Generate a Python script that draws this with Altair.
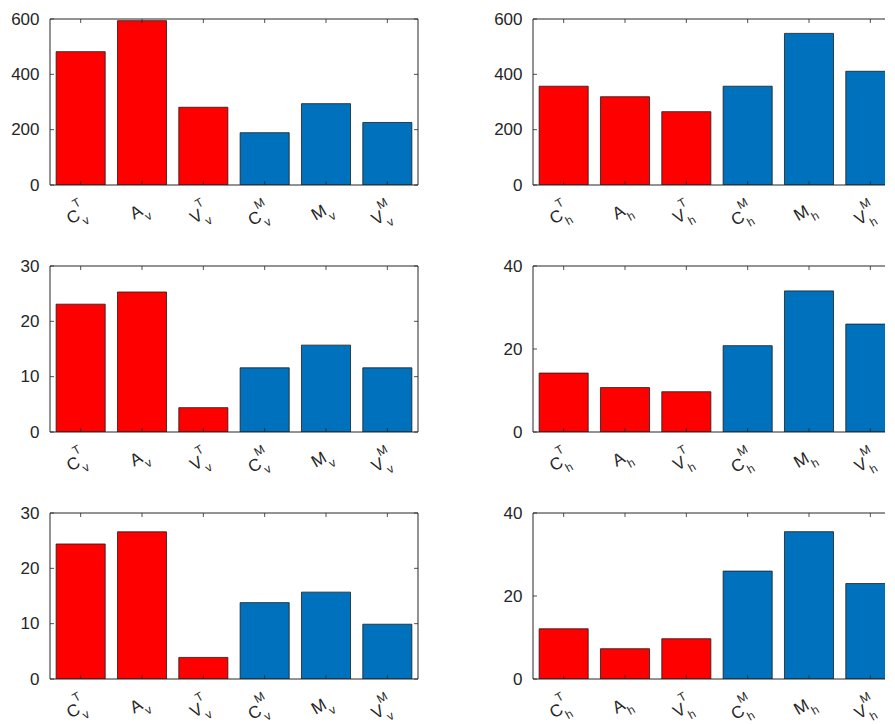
import altair as alt
import pandas as pd

# ---- data ----
base = ["C", "A", "V", "C", "M", "V"]
sups = ["T", "", "T", "M", "", "M"]
groups = ["T", "T", "T", "M", "M", "M"]

vals_tl = [482, 594, 281, 189, 294, 226]
vals_tr = [357, 319, 265, 357, 548, 411]
vals_ml = [23.1, 25.3, 4.4, 11.6, 15.7, 11.6]
vals_mr = [14.2, 10.7, 9.7, 20.8, 34.0, 26.0]
vals_bl = [24.4, 26.6, 3.9, 13.8, 15.7, 9.9]
vals_br = [12.1, 7.3, 9.7, 26.0, 35.5, 23.0]

yt_600 = [0, 200, 400, 600]
yt_30 = [0, 10, 20, 30]
yt_40 = [0, 20, 40]

# ---- style ----
W, H = 368, 166          # full panel size (6 category slots)
WR = 352                 # right column is cut off by the page edge
RED, BLUE = "#FF0000", "#0072BD"
AX = "#262626"
FONT = "Liberation Sans"
BASE_FS, SCRIPT_FS = 17, 12
CW = {"T": 0.611, "M": 0.833, "v": 0.5, "h": 0.556, "": 0.0}
C30, S30 = 0.866, 0.5
YEXT = 40


def panel(values, sub, ymax, yticks, width):
    cut = width < W
    pos = list(range(1, 7))
    df = pd.DataFrame({
        "pos": pos,
        "lo": [p - 0.4 for p in pos],
        "hi": [p + 0.4 for p in pos],
        "val": values,
        "zero": [0] * 6,
        "grp": groups,
    })
    xmax = 0.5 + width / (W / 6.0)
    xs = alt.Scale(domain=[0.5, xmax], nice=False, zero=False)
    ys = alt.Scale(domain=[0, ymax], nice=False)
    yaxis = alt.Axis(
        values=yticks, grid=False, domain=False, ticks=False, tickSize=0,
        labelPadding=11, labelFont=FONT, labelFontSize=17, labelColor=AX,
        minExtent=YEXT, maxExtent=YEXT, title=None)

    bars = alt.Chart(df).mark_bar(stroke="#1a1a1a", strokeWidth=0.8, clip=True).encode(
        x=alt.X("lo:Q", scale=xs, axis=None),
        x2="hi",
        y=alt.Y("val:Q", scale=ys, axis=yaxis),
        y2="zero",
        color=alt.Color("grp:N", scale=alt.Scale(domain=["T", "M"], range=[RED, BLUE]), legend=None),
    )

    tdf = pd.DataFrame({"t": yticks})
    rule = dict(color=AX, strokeWidth=0.8)
    ytl = alt.Chart(tdf).mark_rule(**rule).encode(
        x=alt.value(0), x2=alt.value(4), y=alt.Y("t:Q", scale=ys, axis=yaxis))
    xtb = alt.Chart(df).mark_rule(**rule).encode(
        x=alt.X("pos:Q", scale=xs, axis=None), y=alt.value(H - 4), y2=alt.value(H))
    xtt = alt.Chart(df).mark_rule(**rule).encode(
        x=alt.X("pos:Q", scale=xs, axis=None), y=alt.value(0), y2=alt.value(4))

    frame = dict(color=AX, strokeWidth=1)
    one = alt.Chart(pd.DataFrame({"f": [0]}))
    f_top = one.mark_rule(**frame).encode(x=alt.value(0), x2=alt.value(width), y=alt.value(0))
    f_bot = one.mark_rule(**frame).encode(x=alt.value(0), x2=alt.value(width), y=alt.value(H))
    f_left = one.mark_rule(**frame).encode(x=alt.value(0), y=alt.value(0), y2=alt.value(H))

    layers = [bars, ytl, xtb, xtt, f_top, f_bot, f_left]
    if not cut:
        ytr = alt.Chart(tdf).mark_rule(**rule).encode(
            x=alt.value(width - 4), x2=alt.value(width), y=alt.Y("t:Q", scale=ys, axis=yaxis))
        f_right = one.mark_rule(**frame).encode(x=alt.value(width), y=alt.value(0), y2=alt.value(H))
        layers += [ytr, f_right]

    # rotated tick labels built from base letter + superscript + subscript
    sx, sy = 7.0, 0.0  # screen shift of label end from tick
    lx0 = C30 * sx - S30 * sy
    ly0 = S30 * sx + C30 * sy
    for i in range(6):
        has_sup = sups[i] != ""
        sw = max(CW[sups[i]], CW[sub]) * SCRIPT_FS
        yoff = H + (30 if has_sup else 26)
        src = alt.Chart(df).transform_filter(alt.datum.pos == i + 1)
        enc = dict(x=alt.X("pos:Q", scale=xs, axis=None), y=alt.value(yoff),
                   angle=alt.value(330))
        layers.append(src.mark_text(
            text=base[i], align="right", baseline="alphabetic",
            dx=lx0 - sw, dy=ly0, font=FONT, fontSize=BASE_FS, color=AX).encode(**enc))
        layers.append(src.mark_text(
            text=sub, align="left", baseline="alphabetic",
            dx=lx0 - sw, dy=ly0 + 8, font=FONT, fontSize=SCRIPT_FS, color=AX).encode(**enc))
        if has_sup:
            layers.append(src.mark_text(
                text=sups[i], align="left", baseline="alphabetic",
                dx=lx0 - sw, dy=ly0 - 12, font=FONT, fontSize=SCRIPT_FS, color=AX).encode(**enc))

    return alt.layer(*layers).properties(width=width, height=H)


rows = [
    alt.hconcat(panel(vals_tl, "v", 600, yt_600, W), panel(vals_tr, "h", 600, yt_600, WR), spacing=74),
    alt.hconcat(panel(vals_ml, "v", 30, yt_30, W), panel(vals_mr, "h", 40, yt_40, WR), spacing=74),
    alt.hconcat(panel(vals_bl, "v", 30, yt_30, W), panel(vals_br, "h", 40, yt_40, WR), spacing=74),
]

chart = alt.vconcat(*rows, spacing=28).properties(
    padding={"left": 2, "top": 2, "right": 0, "bottom": 0}
).configure_view(stroke=None)

chart.save("out.html", embed_options={"renderer": "svg", "actions": False})
